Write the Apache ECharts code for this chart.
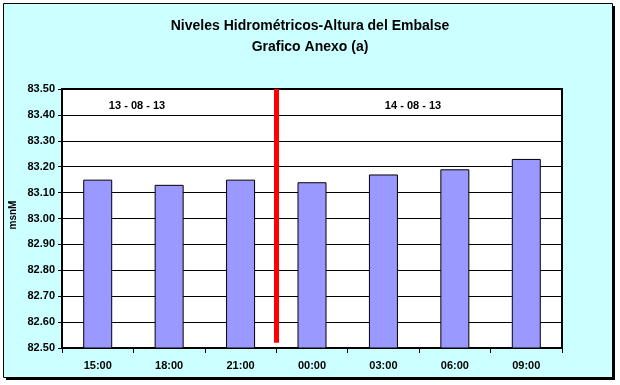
<!DOCTYPE html>
<html><head><meta charset="utf-8">
<script src="https://cdn.jsdelivr.net/npm/echarts@6/dist/echarts.min.js"></script>
<style>html,body{margin:0;padding:0;background:#fff}#c{width:620px;height:385px}</style>
</head><body><div id="c"></div>
<script>
var categories = ['15:00','18:00','21:00','00:00','03:00','06:00','09:00'];
var levels = [83.15, 83.13, 83.15, 83.14, 83.17, 83.19, 83.23];
var yMin = 82.5, yMax = 83.5, yStep = 0.1;
var dayBreak = 3; // boundary index between 21:00 and 00:00
var dayLabels = ['13 - 08 - 13', '14 - 08 - 13'];
var titleLines = ['Niveles Hidrométricos-Altura del Embalse', 'Grafico Anexo (a)'];
var yName = 'msnM';

var font = 'Arial, "Liberation Sans", sans-serif';
var chart = echarts.init(document.getElementById('c'), null, {renderer:'canvas'});
chart.setOption({
  backgroundColor: '#ffffff',
  animation: false,
  title: {
    text: titleLines.join('\n'), left: 'center', top: 11,
    textStyle: {fontFamily: font, fontSize: 14, fontWeight: 'bold', color: '#000', lineHeight: 21}
  },
  graphic: [
    {type:'rect', z:-100, shape:{x:6,y:6,width:609,height:374}, style:{fill:'#000'}},
    {type:'rect', z:-99, shape:{x:3.5,y:3.5,width:609,height:374}, style:{fill:'#CCFFFF', stroke:'#000', lineWidth:1}},
    {type:'text', x:137, y:106, style:{text: dayLabels[0], fontFamily: font, fontSize: 11, fontWeight:'bold', fill:'#000', align:'center', verticalAlign:'middle'}},
    {type:'text', x:413, y:106, style:{text: dayLabels[1], fontFamily: font, fontSize: 11, fontWeight:'bold', fill:'#000', align:'center', verticalAlign:'middle'}},
    {type:'text', x:13, y:215, rotation: Math.PI/2, style:{text: yName, fontFamily: font, fontSize: 10, fontWeight:'bold', fill:'#000', align:'center', verticalAlign:'middle'}}
  ],
  grid: {left:62, right:58, top:89, bottom:37, show:true, backgroundColor:'#fff', borderColor:'#000', borderWidth:2},
  xAxis: [{
    type:'category', data: categories, boundaryGap:true,
    axisLine:{show:true, lineStyle:{color:'#000', width:2}},
    axisTick:{show:true, length:5, lineStyle:{color:'#000'}},
    axisLabel:{fontFamily: font, fontSize: 11, fontWeight:'bold', color:'#000', margin:12},
    splitLine:{show:false}
  },{
    type:'value', min:0, max:categories.length, show:false
  }],
  yAxis: {
    type:'value', min:yMin, max:yMax, interval:yStep,
    axisLine:{show:true, lineStyle:{color:'#000', width:2}},
    axisTick:{show:true, length:4, lineStyle:{color:'#000'}},
    axisLabel:{fontFamily: font, fontSize: 11, fontWeight:'bold', color:'#000', margin:7, formatter: function(v){return v.toFixed(2);}},
    splitLine:{show:true, lineStyle:{color:'#000', width:1}}
  },
  series: [{
    type:'bar', data: levels, barWidth: 29,
    itemStyle:{color:'#9999FF', borderColor:'#000', borderWidth:1}
  },{
    type:'line', xAxisIndex:1, data:[], silent:true,
    markLine:{
      symbol:['none','none'], silent:true, label:{show:false},
      lineStyle:{color:'#FF0000', width:5, type:'solid'},
      data:[[{coord:[dayBreak, yMax]}, {coord:[dayBreak, yMin + 0.02]}]]
    }
  }]
});
</script></body></html>
